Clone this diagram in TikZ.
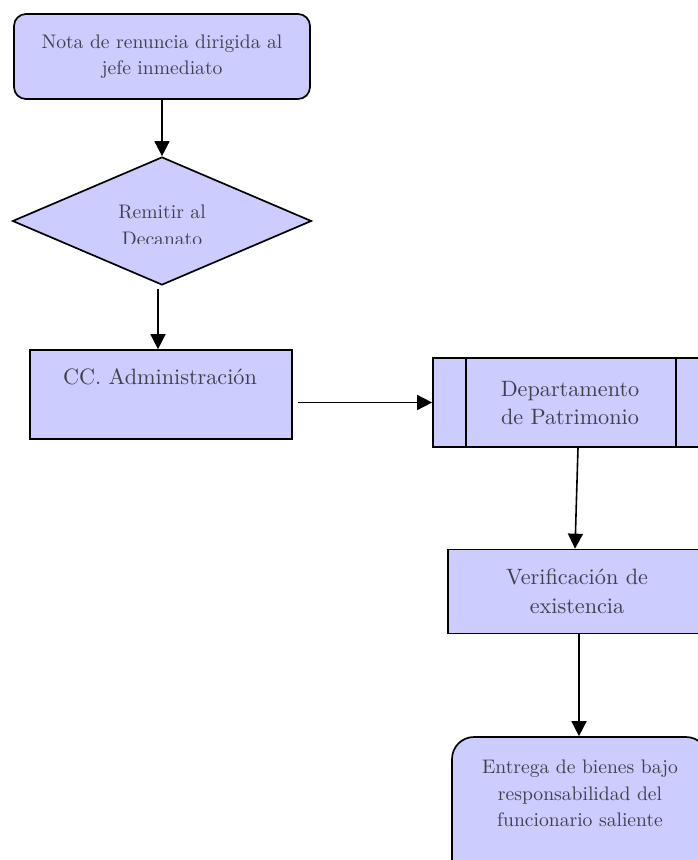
\documentclass[tikz,border=0pt]{standalone}
\usepackage{fontspec}
\setmainfont{lmroman10-regular.otf}
\usetikzlibrary{shapes.geometric,arrows.meta,calc}
\definecolor{boxfill}{RGB}{204,204,255}
\definecolor{boxtext}{RGB}{64,64,76}
\newcommand{\smallfs}{\fontsize{19.6}{26.5}\selectfont}
\newcommand{\largefs}{\fontsize{22.2}{28.5}\selectfont}
\tikzset{
  box/.style={draw=black, line width=1.7pt, fill=boxfill, text=boxtext, inner sep=0pt, align=center},
  flow/.style={draw=black, line width=1.6pt, -{Triangle[length=15pt,width=15pt]}},
  txt/.style={text=boxtext, inner sep=0pt, align=center}
}
\begin{document}
\begin{tikzpicture}[x=1pt,y=-1pt]
\useasboundingbox (0,0) rectangle (697,860);

% start: resignation note
\node[box, rounded corners=12pt, minimum width=296pt, minimum height=85pt, font=\smallfs] (nota) at (162,56.5)
  {Nota de renuncia dirigida al\\ jefe inmediato};

% decision diamond
\node[draw=black, line width=1.7pt, fill=boxfill, diamond, inner sep=0pt,
      minimum width=299pt, minimum height=128pt] (dec) at (162,221) {};
\begin{scope}
  \clip (60,190) rectangle (260,243);
  \node[txt, anchor=base, font=\smallfs] (decA) at (162,218) {Remitir al};
  \node[txt, anchor=base, font=\smallfs] (decB) at (162,245) {Decanato};
\end{scope}

% administration box, text near its top
\node[box, minimum width=262pt, minimum height=89pt] (cc) at (161,394.5) {};
\node[txt, anchor=base, font=\largefs] (ccT) at (160,384) {CC. Administración};

% predefined process: asset department
\node[box, minimum width=276pt, minimum height=89pt] (dep) at (571,402.5) {};
\draw[line width=1.7pt] ($(dep.north west)+(34,0)$) -- ($(dep.south west)+(34,0)$);
\draw[line width=1.7pt] ($(dep.north east)+(-34,0)$) -- ($(dep.south east)+(-34,0)$);
\node[txt, font=\largefs] (depT) at (570,403) {Departamento\\ de Patrimonio};

% verification
\node[box, minimum width=258pt, minimum height=84pt, font=\largefs] (ver) at (577,591.5)
  {Verificación de\\ existencia};

% final delivery
\node[box, rounded corners=22pt, minimum width=256pt, minimum height=150pt] (ent) at (580,812) {};
\node[txt, anchor=base, font=\smallfs] (entA) at (580,773) {Entrega de bienes bajo};
\node[txt, anchor=base, font=\smallfs] (entB) at (580,800) {responsabilidad del};
\node[txt, anchor=base, font=\smallfs] (entC) at (580,826) {funcionario saliente};

% connectors
\draw[flow] (nota.south) -- (dec.north);
\draw[flow] ($(dec.south)+(-4,3)$) -- ($(cc.north)+(-3,0)$);
\draw[flow] ($(cc.east |- dep.west)+(5,0)$) -- (dep.west);
\draw[flow] ($(dep.south)+(7,0)$) -- ($(ver.north)+(-2,0)$);
\draw[flow] ($(ver.south)+(2,0)$) -- ($(ent.north)+(-1,0)$);
\end{tikzpicture}
\end{document}
